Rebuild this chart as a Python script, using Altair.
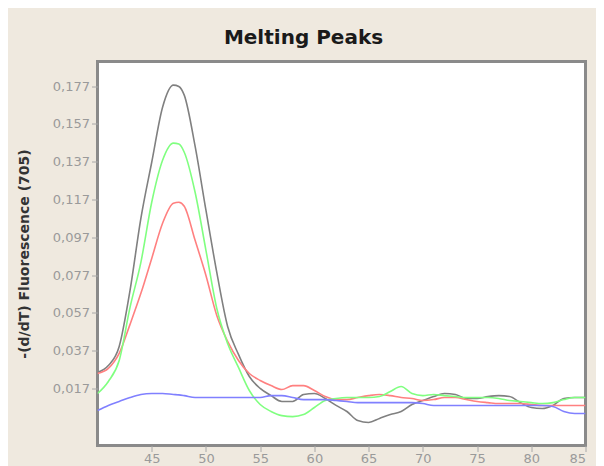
import altair as alt
import pandas as pd

temps = [40, 41, 42, 43, 44, 45, 46, 47, 47.5, 48, 49, 50, 51, 52, 53, 54, 55, 56, 57, 58, 59,
         60, 61, 62, 63, 64, 65, 66, 67, 68, 69, 70, 71, 72, 73, 74, 75, 76, 77, 78, 79,
         80, 81, 82, 83, 84, 85]

gray = [0.0254, 0.0291, 0.0392, 0.0689, 0.1070, 0.1367, 0.1658, 0.1775, 0.1768, 0.1722,
        0.1452, 0.1113, 0.0784, 0.0498, 0.0350, 0.0233, 0.0170, 0.0132, 0.0101, 0.0101,
        0.0138, 0.0143, 0.0117, 0.0080, 0.0048, 0.0000, -0.0010, 0.0011, 0.0032, 0.0048,
        0.0085, 0.0106, 0.0127, 0.0143, 0.0138, 0.0117, 0.0117, 0.0127, 0.0132, 0.0127,
        0.0095, 0.0069, 0.0064, 0.0080, 0.0117, 0.0122, 0.0122]

green = [0.0143, 0.0207, 0.0318, 0.0599, 0.0837, 0.1155, 0.1377, 0.1468, 0.1463, 0.1420,
         0.1208, 0.0901, 0.0593, 0.0408, 0.0281, 0.0159, 0.0085, 0.0048, 0.0026, 0.0021,
         0.0032, 0.0069, 0.0106, 0.0117, 0.0122, 0.0122, 0.0122, 0.0127, 0.0154, 0.0180,
         0.0143, 0.0132, 0.0138, 0.0132, 0.0127, 0.0122, 0.0122, 0.0122, 0.0117, 0.0106,
         0.0101, 0.0095, 0.0090, 0.0095, 0.0111, 0.0122, 0.0122]

red = [0.0249, 0.0276, 0.0355, 0.0509, 0.0673, 0.0858, 0.1044, 0.1150, 0.1155, 0.1134,
       0.0954, 0.0768, 0.0556, 0.0419, 0.0318, 0.0249, 0.0212, 0.0185, 0.0164, 0.0185,
       0.0185, 0.0159, 0.0127, 0.0111, 0.0111, 0.0122, 0.0132, 0.0138, 0.0132, 0.0122,
       0.0117, 0.0106, 0.0111, 0.0122, 0.0122, 0.0111, 0.0101, 0.0095, 0.0090, 0.0090,
       0.0090, 0.0085, 0.0080, 0.0080, 0.0080, 0.0080, 0.0080]

blue = [0.0053, 0.0080, 0.0101, 0.0122, 0.0138, 0.0143, 0.0143, 0.0138, 0.0136, 0.0132,
        0.0122, 0.0122, 0.0122, 0.0122, 0.0122, 0.0122, 0.0122, 0.0132, 0.0132, 0.0122,
        0.0111, 0.0111, 0.0111, 0.0106, 0.0101, 0.0095, 0.0095, 0.0095, 0.0095, 0.0095,
        0.0095, 0.0090, 0.0080, 0.0080, 0.0080, 0.0080, 0.0080, 0.0080, 0.0080, 0.0080,
        0.0080, 0.0080, 0.0080, 0.0074, 0.0048, 0.0037, 0.0037]

series_names = ["Sample 1", "Sample 2", "Sample 3", "Sample 4"]
series_colors = ["#808080", "#ff8080", "#80ff80", "#8080ff"]
series_values = [gray, red, green, blue]

y_ticks = [0.017, 0.037, 0.057, 0.077, 0.097, 0.117, 0.137, 0.157, 0.177]
x_ticks = [45, 50, 55, 60, 65, 70, 75, 80, 85]

rows = []
for name, vals in zip(series_names, series_values):
    for t, v in zip(temps, vals):
        rows.append({"T": t, "v": v, "s": name})
df = pd.DataFrame(rows)

chart = alt.Chart(df).mark_line(strokeWidth=1.6, interpolate="monotone", clip=True).encode(
    x=alt.X("T:Q", scale=alt.Scale(domain=[40, 85], nice=False, zero=False),
            axis=alt.Axis(values=x_ticks, title=None, grid=False, domain=False,
                          labelFont="DejaVu Sans", labelFontSize=13, labelColor="#9a9a9a",
                          tickColor="#a8a8a8", tickSize=6, labelPadding=1)),
    y=alt.Y("v:Q", scale=alt.Scale(domain=[-0.0132, 0.190], nice=False, zero=False),
            axis=alt.Axis(values=y_ticks, grid=False, domain=False,
                          labelExpr="replace(format(datum.value, '.3f'), '.', ',')",
                          labelFont="DejaVu Sans", labelFontSize=13, labelColor="#9a9a9a",
                          tickColor="#a8a8a8", tickSize=6, labelPadding=2,
                          title="-(d/dT) Fluorescence (705)", titleFont="DejaVu Sans",
                          titleFontSize=14, titleFontWeight="bold", titleColor="#333333",
                          titleX=-73, titleY=192, titleAlign="center", titleBaseline="middle")),
    color=alt.Color("s:N", scale=alt.Scale(domain=series_names, range=series_colors), legend=None),
    order=alt.Order("s:N"),
).properties(
    width=488,
    height=384,
    title=alt.TitleParams("Melting Peaks", font="DejaVu Sans", fontSize=20, fontWeight="bold",
                          color="#1a1a1a", anchor="middle", dx=-38, offset=-2,
                          baseline="alphabetic"),
    background="#EFE9DF",
    padding={"left": 89.5, "top": 53.5, "right": 10.5, "bottom": 20.5},
    autosize=alt.AutoSizeParams(type="none"),
).configure_view(
    stroke="#8a8a8a", strokeWidth=3, fill="white"
)

chart.save("out.html", embed_options={"renderer": "svg", "actions": False})
